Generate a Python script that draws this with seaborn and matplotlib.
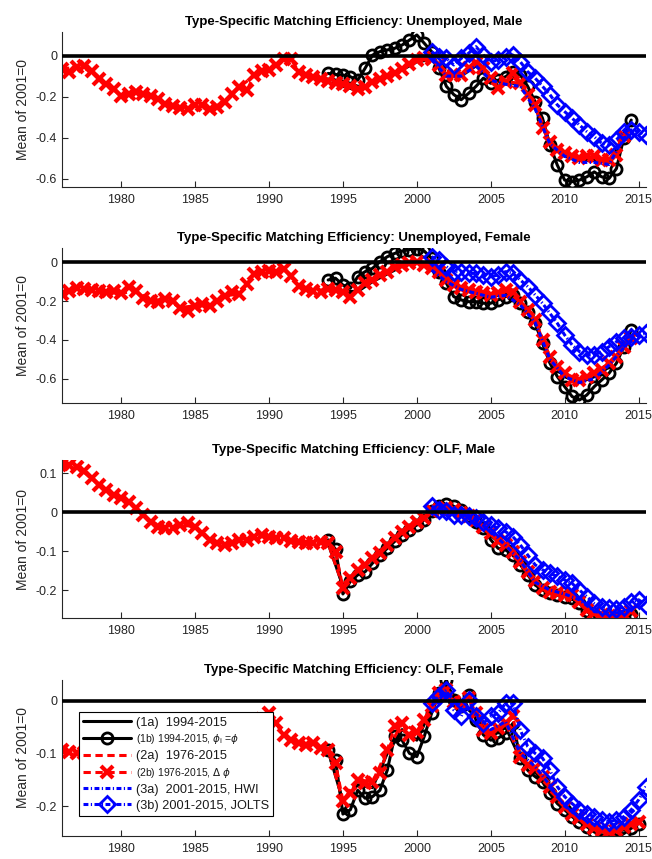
import numpy as np
import seaborn as sns
import matplotlib.pyplot as plt

sns.set_theme(style="white")
plt.rcParams['font.family'] = ['Liberation Sans', 'DejaVu Sans']
plt.rcParams['axes.unicode_minus'] = False

titles = ["Type-Specific Matching Efficiency: Unemployed, Male",
          "Type-Specific Matching Efficiency: Unemployed, Female",
          "Type-Specific Matching Efficiency: OLF, Male",
          "Type-Specific Matching Efficiency: OLF, Female"]

labels = ["(1a)  1994-2015",
          r"(1b) 1994-2015, $\phi_{\rm i}$ =$\phi$",
          "(2a)  1976-2015",
          r"(2b) 1976-2015, $\Delta$ $\phi$",
          "(3a)  2001-2015, HWI",
          "(3b) 2001-2015, JOLTS"]

# start years of each series (half-year steps for marker series, yearly for plain lines)
start_1a, start_1b = 1994.0, 1994.0
start_2a, start_2b = 1976.0, 1976.0
start_3a, start_3b = 2001.0, 2001.0

# ---------- panel 1: unemployed, male ----------
u_m_1a = [-0.13, -0.15, -0.17, -0.13, -0.10, -0.07, -0.03, -0.02, -0.10, -0.10, -0.05,
          -0.12, -0.13, -0.14, -0.25, -0.43, -0.49, -0.51, -0.51, -0.52, -0.40]
u_m_1b = [-0.087, -0.092, -0.095, -0.103, -0.12, -0.062, 0.002, 0.019, 0.027, 0.035,
          0.051, 0.075, 0.10, 0.06, 0.019, -0.062, -0.15, -0.19, -0.215, -0.184,
          -0.15, -0.11, -0.135, -0.12, -0.103, -0.079, -0.095, -0.15, -0.225, -0.305,
          -0.435, -0.533, -0.606, -0.614, -0.606, -0.59, -0.566, -0.59, -0.598, -0.55,
          -0.40, -0.314]
u_m_2a = [-0.065, -0.057, -0.073, -0.138, -0.195, -0.175, -0.195, -0.235, -0.256, -0.243,
          -0.262, -0.224, -0.154, -0.097, -0.068, -0.016, -0.08, -0.105, -0.125, -0.14,
          -0.165, -0.13, -0.10, -0.065, -0.02, -0.015, -0.095, -0.095, -0.038, -0.111,
          -0.127, -0.135, -0.24, -0.42, -0.476, -0.5, -0.49, -0.51, -0.39]
u_m_2b = [-0.065, -0.08, -0.057, -0.052, -0.073, -0.113, -0.138, -0.162,
          -0.195, -0.186, -0.175, -0.186, -0.195, -0.21, -0.235, -0.246,
          -0.256, -0.262, -0.243, -0.24, -0.262, -0.25, -0.224, -0.186,
          -0.154, -0.17, -0.097, -0.073, -0.068, -0.045, -0.016, -0.016,
          -0.08, -0.097, -0.105, -0.115, -0.125, -0.135, -0.14, -0.15,
          -0.165, -0.155, -0.13, -0.115, -0.10, -0.085, -0.065, -0.04,
          -0.02, -0.01, -0.015, -0.046, -0.095, -0.095, -0.095, -0.062,
          -0.038, -0.062, -0.111, -0.16, -0.127, -0.087, -0.135, -0.192,
          -0.24, -0.354, -0.42, -0.46, -0.476, -0.49, -0.5, -0.49,
          -0.49, -0.51, -0.51, -0.485, -0.39]
u_m_3a = [-0.02, -0.10, -0.10, -0.05, -0.12, -0.14, -0.15, -0.26, -0.43, -0.49, -0.52,
          -0.52, -0.53, -0.40, -0.38]
u_m_3b = [0.019, -0.006, -0.014, -0.046, -0.014, 0.011, 0.043, 0.002, -0.03, -0.022,
          -0.006, 0.002, -0.03, -0.079, -0.11, -0.15, -0.19, -0.24, -0.273, -0.305,
          -0.338, -0.37, -0.395, -0.427, -0.435, -0.41, -0.37, -0.362, -0.37, -0.387]

# ---------- panel 2: unemployed, female ----------
u_f_1a = [-0.14, -0.15, -0.15, -0.10, -0.06, -0.02, 0.00, -0.04, -0.10, -0.14, -0.16,
          -0.18, -0.16, -0.21, -0.31, -0.50, -0.59, -0.62, -0.59, -0.53, -0.44]
u_f_1b = [-0.091, -0.082, -0.117, -0.134, -0.074, -0.048, -0.031, 0.003, 0.029, 0.046,
          0.058, 0.066, 0.07, 0.058, 0.021, -0.048, -0.108, -0.177, -0.194, -0.203,
          -0.203, -0.211, -0.211, -0.194, -0.177, -0.168, -0.211, -0.254, -0.314, -0.418,
          -0.52, -0.589, -0.641, -0.692, -0.71, -0.684, -0.641, -0.607, -0.572, -0.52,
          -0.435, -0.349]
u_f_2a = [-0.164, -0.13, -0.143, -0.155, -0.16, -0.147, -0.198, -0.19, -0.233, -0.224,
          -0.224, -0.172, -0.164, -0.06, -0.043, -0.034, -0.12, -0.147, -0.14, -0.151,
          -0.143, -0.091, -0.048, -0.014, 0.003, -0.031, -0.091, -0.134, -0.151, -0.168,
          -0.143, -0.203, -0.297, -0.486, -0.572, -0.607, -0.572, -0.52, -0.435]
u_f_2b = [-0.164, -0.147, -0.13, -0.138, -0.143, -0.147, -0.155, -0.147,
          -0.16, -0.126, -0.147, -0.184, -0.198, -0.207, -0.19, -0.198,
          -0.233, -0.25, -0.224, -0.215, -0.224, -0.198, -0.172, -0.155,
          -0.164, -0.112, -0.06, -0.052, -0.043, -0.052, -0.034, -0.069,
          -0.12, -0.138, -0.147, -0.155, -0.14, -0.143, -0.151, -0.177,
          -0.143, -0.108, -0.091, -0.065, -0.048, -0.022, -0.014, -0.005,
          0.003, -0.014, -0.031, -0.048, -0.091, -0.117, -0.134, -0.143,
          -0.151, -0.16, -0.168, -0.16, -0.143, -0.151, -0.203, -0.246,
          -0.297, -0.40, -0.486, -0.538, -0.572, -0.607, -0.607, -0.589,
          -0.572, -0.555, -0.52, -0.486, -0.435, -0.392]
u_f_3a = [-0.04, -0.10, -0.14, -0.16, -0.18, -0.17, -0.22, -0.31, -0.50, -0.59, -0.62,
          -0.60, -0.53, -0.44, -0.38]
u_f_3b = [0.029, 0.012, -0.022, -0.048, -0.048, -0.057, -0.057, -0.065, -0.074, -0.065,
          -0.048, -0.057, -0.091, -0.125, -0.168, -0.211, -0.263, -0.314, -0.375, -0.426,
          -0.46, -0.478, -0.478, -0.46, -0.435, -0.409, -0.392, -0.383, -0.375, -0.366]

# ---------- panel 3: OLF, male ----------
o_m_1a = [-0.08, -0.19, -0.15, -0.12, -0.09, -0.055, -0.028, 0.0, 0.012, -0.003, -0.022,
          -0.06, -0.09, -0.13, -0.18, -0.206, -0.215, -0.232, -0.262, -0.268, -0.266]
o_m_1b = [-0.071, -0.095, -0.21, -0.178, -0.161, -0.153, -0.131, -0.11, -0.093, -0.075,
          -0.058, -0.045, -0.033, -0.02, 0.002, 0.015, 0.021, 0.015, 0.006, -0.011,
          -0.024, -0.041, -0.071, -0.093, -0.097, -0.11, -0.135, -0.161, -0.187, -0.20,
          -0.208, -0.213, -0.217, -0.221, -0.234, -0.255, -0.268, -0.272, -0.272, -0.272,
          -0.27, -0.262]
o_m_2a = [0.123, 0.117, 0.087, 0.057, 0.036, 0.010, -0.024, -0.041, -0.033, -0.037,
          -0.071, -0.084, -0.071, -0.063, -0.063, -0.067, -0.077, -0.08, -0.08, -0.19,
          -0.148, -0.118, -0.084, -0.05, -0.024, 0.002, 0.010, -0.003, -0.02, -0.054,
          -0.084, -0.127, -0.178, -0.204, -0.213, -0.23, -0.26, -0.266, -0.264]
o_m_2b = [0.123, 0.122, 0.117, 0.105, 0.087, 0.07, 0.057, 0.045,
          0.036, 0.027, 0.010, -0.007, -0.024, -0.037, -0.041, -0.041,
          -0.033, -0.028, -0.037, -0.054, -0.071, -0.08, -0.084, -0.08,
          -0.071, -0.071, -0.063, -0.058, -0.063, -0.067, -0.067, -0.074,
          -0.077, -0.08, -0.08, -0.077, -0.08, -0.101, -0.195, -0.17,
          -0.148, -0.135, -0.118, -0.105, -0.084, -0.067, -0.05, -0.037,
          -0.024, -0.015, 0.002, 0.006, 0.010, 0.006, -0.003, -0.011,
          -0.02, -0.037, -0.054, -0.075, -0.084, -0.101, -0.127, -0.153,
          -0.178, -0.195, -0.204, -0.208, -0.213, -0.213, -0.23, -0.251,
          -0.26, -0.264, -0.266, -0.268, -0.264, -0.255]
o_m_3a = [0.005, 0.005, -0.005, -0.02, -0.05, -0.085, -0.125, -0.18, -0.20, -0.21, -0.225,
          -0.255, -0.262, -0.255, -0.24]
o_m_3b = [0.015, 0.006, 0.002, -0.007, -0.007, -0.011, -0.015, -0.024, -0.033, -0.041,
          -0.05, -0.063, -0.084, -0.11, -0.135, -0.148, -0.157, -0.165, -0.174, -0.183,
          -0.20, -0.217, -0.234, -0.243, -0.247, -0.248, -0.243, -0.23, -0.225, -0.238]

# ---------- panel 4: OLF, female ----------
o_f_1a = [-0.095, -0.19, -0.16, -0.165, -0.10, -0.055, -0.075, -0.015, 0.025, -0.005,
          -0.03, -0.068, -0.05, -0.11, -0.135, -0.17, -0.205, -0.225, -0.245, -0.252,
          -0.245, -0.232]
o_f_1b = [-0.094, -0.113, -0.215, -0.207, -0.17, -0.185, -0.182, -0.17, -0.132, -0.068,
          -0.075, -0.10, -0.106, -0.068, -0.024, 0.014, 0.039, 0.001, -0.011, 0.011,
          -0.037, -0.065, -0.075, -0.071, -0.062, -0.043, -0.109, -0.132, -0.144, -0.154,
          -0.176, -0.195, -0.207, -0.22, -0.23, -0.239, -0.249, -0.255, -0.255, -0.255,
          -0.252, -0.242, -0.233]
o_f_2a = [-0.094, -0.10, -0.105, -0.11, -0.12, -0.125, -0.13, -0.125, -0.115, -0.105,
          -0.095, -0.085, -0.07, -0.05, -0.024, -0.065, -0.081, -0.081, -0.094, -0.19,
          -0.15, -0.154, -0.094, -0.043, -0.059, -0.011, 0.02, -0.005, -0.024, -0.062,
          -0.043, -0.106, -0.128, -0.163, -0.201, -0.223, -0.242, -0.249, -0.239, -0.23]
o_f_2b = [-0.094, -0.097, -0.10, -0.10, -0.105, -0.11, -0.11, -0.115,
          -0.12, -0.12, -0.125, -0.13, -0.13, -0.128, -0.125, -0.12,
          -0.115, -0.11, -0.105, -0.10, -0.095, -0.09, -0.085, -0.08,
          -0.07, -0.06, -0.05, -0.035, -0.024, -0.043, -0.065, -0.075,
          -0.081, -0.084, -0.081, -0.09, -0.094, -0.119, -0.19, -0.176,
          -0.15, -0.157, -0.154, -0.138, -0.094, -0.049, -0.043, -0.065,
          -0.059, -0.037, -0.011, 0.014, 0.02, -0.002, -0.005, 0.004,
          -0.024, -0.056, -0.062, -0.052, -0.043, -0.03, -0.106, -0.122,
          -0.128, -0.144, -0.163, -0.182, -0.201, -0.214, -0.223, -0.233,
          -0.242, -0.245, -0.249, -0.245, -0.239, -0.233, -0.23]
o_f_3a = [-0.01, 0.015, -0.01, -0.025, -0.055, -0.04, -0.10, -0.125, -0.16, -0.20, -0.22,
          -0.235, -0.24, -0.225, -0.20]
o_f_3b = [-0.005, 0.008, 0.02, -0.018, -0.03, 0.001, -0.03, -0.043, -0.03, -0.024,
          -0.005, -0.005, -0.056, -0.087, -0.10, -0.109, -0.132, -0.163, -0.182, -0.195,
          -0.207, -0.214, -0.22, -0.226, -0.23, -0.226, -0.22, -0.207, -0.188, -0.163]

panels = [
    (u_m_1a, u_m_1b, u_m_2a, u_m_2b, u_m_3a, u_m_3b),
    (u_f_1a, u_f_1b, u_f_2a, u_f_2b, u_f_3a, u_f_3b),
    (o_m_1a, o_m_1b, o_m_2a, o_m_2b, o_m_3a, o_m_3b),
    (o_f_1a, o_f_1b, o_f_2a, o_f_2b, o_f_3a, o_f_3b),
]
ylims = [(-0.641, 0.113), (-0.724, 0.074), (-0.2725, 0.134), (-0.256, 0.039)]
yticks = [[-0.6, -0.4, -0.2, 0], [-0.6, -0.4, -0.2, 0], [-0.2, -0.1, 0, 0.1], [-0.2, -0.1, 0]]

# pixel boxes of the four axes (top, bottom) in a 652x859 figure
boxes = [(32.3, 187.3), (248.0, 402.7), (460.0, 618.3), (680.0, 835.7)]
W, H = 652, 859
left_px, right_px = 62, 646

dash = (0, (2.4, 1.5))
dashdot = (0, (1.6, 0.8, 0.4, 0.8))
styles = [
    dict(color='black', linestyle='-', linewidth=2.2),
    dict(color='black', linestyle='-', linewidth=2.2, marker='o', markersize=8,
         markerfacecolor='none', markeredgewidth=2.0, markeredgecolor='black'),
    dict(color='red', linestyle=dash, linewidth=2.2),
    dict(color='red', linestyle=dash, linewidth=2.2, marker='x', markersize=8,
         markeredgewidth=3.0, markeredgecolor='red'),
    dict(color='blue', linestyle=dashdot, linewidth=2.2),
    dict(color='blue', linestyle=dashdot, linewidth=2.2, marker='D', markersize=8,
         markerfacecolor='none', markeredgewidth=2.0, markeredgecolor='blue'),
]
starts = [start_1a, start_1b, start_2a, start_2b, start_3a, start_3b]
steps = [1.0, 0.5, 1.0, 0.5, 1.0, 0.5]

fig = plt.figure(figsize=(W / 100, H / 100), dpi=100)
gray = '#262626'

for i, series in enumerate(panels):
    top, bot = boxes[i]
    ax = fig.add_axes([left_px / W, 1 - bot / H, (right_px - left_px) / W, (bot - top) / H])
    for vals, st, start, step, lab in zip(series, styles, starts, steps, labels):
        yrs = start + step * np.arange(len(vals))
        sns.lineplot(x=yrs, y=vals, ax=ax, sort=False, errorbar=None,
                     label=lab if i == 3 else None, **st)
    ax.axhline(0, color='black', linewidth=2.6, zorder=5)

    ax.set_xlim(1976, 2015.5)
    ax.set_ylim(*ylims[i])
    ax.set_xticks(range(1980, 2016, 5))
    ax.set_yticks(yticks[i])
    ax.set_yticklabels([f"{t:g}" for t in yticks[i]])
    ax.set_title(titles[i], fontsize=9.5, fontweight='bold', pad=5, color='black')
    ax.set_ylabel("Mean of 2001=0", fontsize=10, color=gray, labelpad=4)
    ax.set_xlabel("")
    for s in ['top', 'right']:
        ax.spines[s].set_visible(False)
    for s in ['left', 'bottom']:
        ax.spines[s].set_color(gray)
        ax.spines[s].set_linewidth(0.8)
    ax.tick_params(direction='in', length=4, width=0.8, color=gray,
                   labelcolor=gray, labelsize=9, left=True, bottom=True)
    ax.tick_params(axis='x', pad=5)

    if i == 3:
        leg = ax.legend(loc='upper left', bbox_to_anchor=(0.029, 0.794), numpoints=1,
                        handlelength=3.7, handletextpad=0.4, borderaxespad=0,
                        borderpad=0.35, labelspacing=0.3, fontsize=9.2,
                        frameon=True, fancybox=False, edgecolor='black',
                        facecolor='white', framealpha=1)
        leg.get_frame().set_linewidth(0.8)
        leg.set_zorder(10)
        for t in leg.get_texts():
            t.set_color('#1a1a1a')
        leg.get_texts()[1].set_fontsize(7.5)
        leg.get_texts()[3].set_fontsize(7.5)
    elif ax.get_legend() is not None:
        ax.get_legend().remove()

fig.savefig("out.png", dpi=100)
